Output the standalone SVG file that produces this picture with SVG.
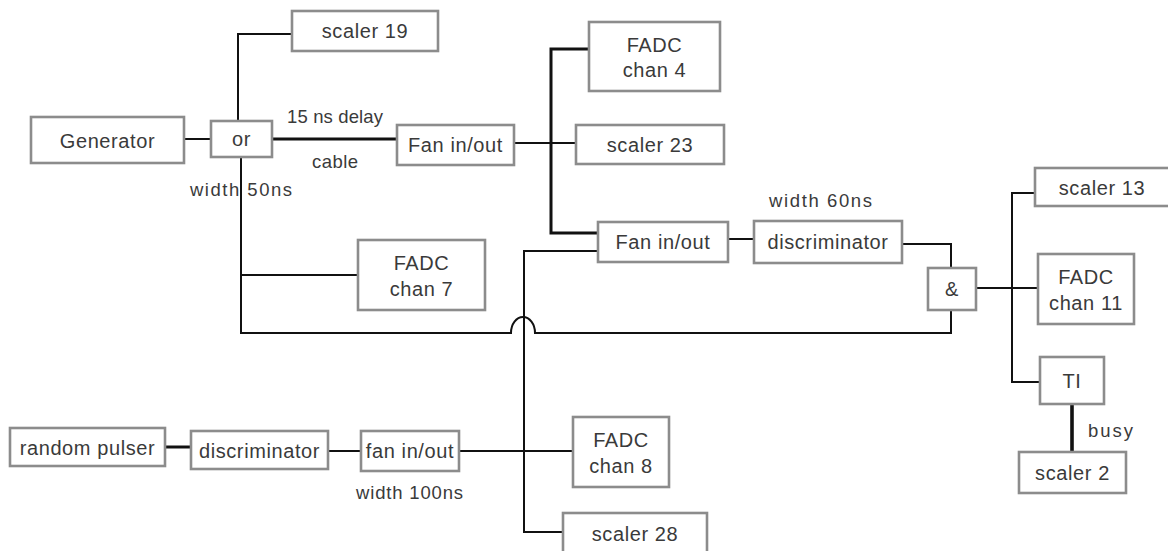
<svg xmlns="http://www.w3.org/2000/svg" width="1168" height="551" viewBox="0 0 1168 551">
  <style>
    .box { fill: #ffffff; stroke: #8c8c8c; stroke-width: 2.6; }
    .lbl { font-family: "Liberation Sans", Arial, sans-serif; font-size: 20px; letter-spacing: 0.6px; fill: #3a3a3a; text-anchor: middle; }
    .note { font-family: "Liberation Sans", Arial, sans-serif; font-size: 18.5px; fill: #3a3a3a; }
    .wire { fill: none; stroke: #111111; stroke-width: 2; }
    .thick { stroke-width: 3; }
    .heavy { stroke-width: 3.6; }
  </style>

  <!-- signal wiring -->
  <g id="connectors">
    <path class="wire" d="M184,139 H211"/>
    <path class="wire" d="M238,121 V34 H292"/>
    <path class="wire thick" d="M272,139 H397"/>
    <path class="wire" d="M241,157 V333 H511 A12,16 0 0 1 535,333 H951 V310"/>
    <path class="wire" d="M241,275 H358"/>
    <path class="wire" d="M514,143 H576"/>
    <path class="wire thick" d="M589,49 H551 V233 H598"/>
    <path class="wire" d="M728,239 H754"/>
    <path class="wire" d="M902,244 H951 V268"/>
    <path class="wire" d="M976,288 H1038"/>
    <path class="wire" d="M1035,193 H1012 V382 H1040"/>
    <path class="wire heavy" d="M1072,404 V452"/>
    <path class="wire thick" d="M165,447 H191"/>
    <path class="wire" d="M328,451 H361"/>
    <path class="wire" d="M459,451 H573"/>
    <path class="wire" d="M598,251 H524 V532 H563"/>
  </g>

  <!-- free-standing annotations -->
  <g id="annotations">
    <text class="note" x="287" y="123" textLength="96" lengthAdjust="spacing">15 ns delay</text>
    <text class="note" x="312" y="168" textLength="46" lengthAdjust="spacing">cable</text>
    <text class="note" x="190" y="196" textLength="102" lengthAdjust="spacing">width 50ns</text>
    <text class="note" x="769" y="207" textLength="103" lengthAdjust="spacing">width 60ns</text>
    <text class="note" x="356" y="499" textLength="107" lengthAdjust="spacing">width 100ns</text>
    <text class="note" x="1088" y="437" textLength="45" lengthAdjust="spacing">busy</text>
  </g>

  <g id="generator">
    <rect class="box" x="31" y="117" width="153" height="46"/>
    <text class="lbl" x="107.5" y="148">Generator</text>
  </g>
  <g id="or-gate">
    <rect class="box" x="211" y="121" width="61" height="36"/>
    <text class="lbl" x="241.5" y="146">or</text>
  </g>
  <g id="scaler-19">
    <rect class="box" x="292" y="11" width="146" height="40"/>
    <text class="lbl" x="365" y="38">scaler 19</text>
  </g>
  <g id="fan-1">
    <rect class="box" x="397" y="125" width="117" height="40"/>
    <text class="lbl" x="455.5" y="152">Fan in/out</text>
  </g>
  <g id="fadc-4">
    <rect class="box" x="589" y="22" width="131" height="69"/>
    <text class="lbl" x="654.5" y="52">FADC</text>
    <text class="lbl" x="654.5" y="77">chan 4</text>
  </g>
  <g id="scaler-23">
    <rect class="box" x="576" y="125" width="148" height="39"/>
    <text class="lbl" x="650" y="152">scaler 23</text>
  </g>
  <g id="fadc-7">
    <rect class="box" x="358" y="240" width="127" height="70"/>
    <text class="lbl" x="421.5" y="270">FADC</text>
    <text class="lbl" x="421.5" y="296">chan 7</text>
  </g>
  <g id="fan-2">
    <rect class="box" x="598" y="222" width="130" height="40"/>
    <text class="lbl" x="663" y="249">Fan in/out</text>
  </g>
  <g id="discriminator-1">
    <rect class="box" x="754" y="221" width="148" height="42"/>
    <text class="lbl" x="828" y="249">discriminator</text>
  </g>
  <g id="and-gate">
    <rect class="box" x="928" y="268" width="48" height="42"/>
    <text class="lbl" x="952" y="296">&amp;</text>
  </g>
  <g id="scaler-13">
    <rect class="box" x="1035" y="168" width="140" height="38"/>
    <text class="lbl" x="1102" y="195">scaler 13</text>
  </g>
  <g id="fadc-11">
    <rect class="box" x="1038" y="254" width="96" height="70"/>
    <text class="lbl" x="1086" y="284">FADC</text>
    <text class="lbl" x="1086" y="310">chan 11</text>
  </g>
  <g id="ti">
    <rect class="box" x="1040" y="357" width="64" height="47"/>
    <text class="lbl" x="1072" y="388">TI</text>
  </g>
  <g id="scaler-2">
    <rect class="box" x="1019" y="452" width="107" height="41"/>
    <text class="lbl" x="1072.5" y="480">scaler 2</text>
  </g>
  <g id="random-pulser">
    <rect class="box" x="10" y="428" width="155" height="38"/>
    <text class="lbl" x="87.5" y="455">random pulser</text>
  </g>
  <g id="discriminator-2">
    <rect class="box" x="191" y="431" width="137" height="38"/>
    <text class="lbl" x="259.5" y="458">discriminator</text>
  </g>
  <g id="fan-3">
    <rect class="box" x="361" y="431" width="98" height="40"/>
    <text class="lbl" x="410" y="458">fan in/out</text>
  </g>
  <g id="fadc-8">
    <rect class="box" x="573" y="417" width="96" height="70"/>
    <text class="lbl" x="621" y="447">FADC</text>
    <text class="lbl" x="621" y="473">chan 8</text>
  </g>
  <g id="scaler-28">
    <rect class="box" x="563" y="513" width="144" height="45"/>
    <text class="lbl" x="635" y="541">scaler 28</text>
  </g>
</svg>
